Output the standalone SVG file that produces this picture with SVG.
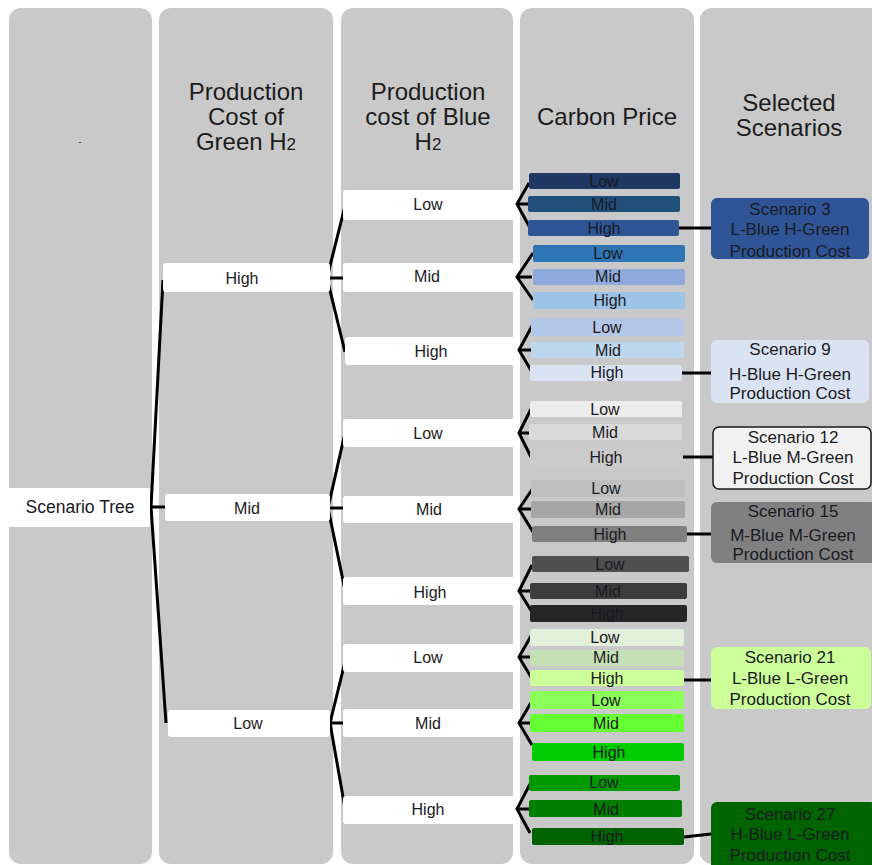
<svg xmlns="http://www.w3.org/2000/svg" width="872" height="865" viewBox="0 0 872 865">
<style>
.col{fill:#c9c9c9}
.hdr{font-family:"Liberation Sans",Arial,sans-serif;font-size:24px;fill:#1c1c1c;text-anchor:middle}
.wb{fill:#ffffff}
.t{font-family:"Liberation Sans",Arial,sans-serif;font-size:16px;fill:#1a1a22;text-anchor:middle}
.sc{font-family:"Liberation Sans",Arial,sans-serif;font-size:17px;fill:#1a1a22;text-anchor:middle}
.conn{stroke:#000;stroke-width:3;fill:none}
</style>
<rect width="872" height="865" fill="#ffffff"/>
<g id="columns">
<rect class="col" x="9" y="8" width="143" height="856" rx="12"/>
<rect class="col" x="159" y="8" width="174" height="856" rx="12"/>
<rect class="col" x="341" y="8" width="172" height="856" rx="12"/>
<rect class="col" x="520" y="8" width="174" height="856" rx="12"/>
<rect class="col" x="700" y="8" width="185" height="856" rx="12"/>
</g>
<g id="headers">
<text class="hdr" x="80" y="145" style="font-size:9px">-</text>
<text class="hdr" x="246" y="100">Production</text>
<text class="hdr" x="246" y="125">Cost of</text>
<text class="hdr" x="246" y="150">Green H<tspan font-size="17">2</tspan></text>
<text class="hdr" x="428" y="100">Production</text>
<text class="hdr" x="428" y="125">cost of Blue</text>
<text class="hdr" x="428" y="150">H<tspan font-size="17">2</tspan></text>
<text class="hdr" x="607" y="125">Carbon Price</text>
<text class="hdr" x="789" y="111">Selected</text>
<text class="hdr" x="789" y="136">Scenarios</text>
</g>
<g id="connectors">
<polyline class="conn" points="163,280 151,507 166,723"/>
<line class="conn" x1="151" y1="507" x2="165" y2="507"/>
<polyline class="conn" points="345,206 327,278 345,352"/>
<line class="conn" x1="327" y1="278" x2="343" y2="278"/>
<polyline class="conn" points="345,433 328,508 345,590"/>
<line class="conn" x1="328" y1="508" x2="343" y2="508"/>
<polyline class="conn" points="345,662 330,723 345,808"/>
<line class="conn" x1="330" y1="723" x2="343" y2="723"/>
<polyline class="conn" points="529,183 517,204 529,226"/>
<line class="conn" x1="517" y1="204" x2="528" y2="204"/>
<polyline class="conn" points="533,253 517,277 533,300"/>
<line class="conn" x1="517" y1="277" x2="532" y2="277"/>
<polyline class="conn" points="532,326 519,350 532,372"/>
<line class="conn" x1="519" y1="350" x2="531" y2="350"/>
<polyline class="conn" points="531,409 519,433 531,457"/>
<line class="conn" x1="519" y1="433" x2="530" y2="433"/>
<polyline class="conn" points="533,488 519,509 533,532"/>
<line class="conn" x1="519" y1="509" x2="532" y2="509"/>
<polyline class="conn" points="532,565 519,591 532,612"/>
<line class="conn" x1="519" y1="591" x2="531" y2="591"/>
<polyline class="conn" points="531,636 519,657 531,677"/>
<line class="conn" x1="519" y1="657" x2="530" y2="657"/>
<polyline class="conn" points="532,701 519,723 532,745"/>
<line class="conn" x1="519" y1="723" x2="531" y2="723"/>
<polyline class="conn" points="530,784 517,809 530,833"/>
<line class="conn" x1="517" y1="809" x2="529" y2="809"/>
<line class="conn" x1="679" y1="228" x2="711" y2="228"/>
<line class="conn" x1="682" y1="373" x2="711" y2="373"/>
<line class="conn" x1="683" y1="457" x2="713" y2="457"/>
<line class="conn" x1="687" y1="534" x2="711" y2="534"/>
<line class="conn" x1="684" y1="680" x2="711" y2="680"/>
<line class="conn" x1="684" y1="837" x2="711" y2="834"/>
</g>
<g id="root">
<rect class="wb" x="9" y="488" width="141" height="39"/>
<text class="t" x="80" y="513" style="font-size:17.5px">Scenario Tree</text>
</g>
<g id="green-high"><rect class="wb" x="163" y="263" width="167" height="29" rx="3"/><text class="t" x="242" y="284">High</text></g>
<g id="green-mid"><rect class="wb" x="165" y="494" width="165" height="27" rx="3"/><text class="t" x="247" y="514">Mid</text></g>
<g id="green-low"><rect class="wb" x="168" y="710" width="162" height="27" rx="3"/><text class="t" x="248" y="729">Low</text></g>
<g id="gh-blue-low"><rect class="wb" x="343" y="190" width="172" height="30" rx="3"/><text class="t" x="428" y="210">Low</text></g>
<g id="gh-blue-mid"><rect class="wb" x="343" y="263" width="172" height="29" rx="3"/><text class="t" x="427" y="282">Mid</text></g>
<g id="gh-blue-high"><rect class="wb" x="345" y="337" width="170" height="28" rx="3"/><text class="t" x="431" y="357">High</text></g>
<g id="gm-blue-low"><rect class="wb" x="343" y="419" width="172" height="28" rx="3"/><text class="t" x="428" y="439">Low</text></g>
<g id="gm-blue-mid"><rect class="wb" x="343" y="496" width="172" height="27" rx="3"/><text class="t" x="429" y="515">Mid</text></g>
<g id="gm-blue-high"><rect class="wb" x="343" y="577" width="172" height="28" rx="3"/><text class="t" x="430" y="598">High</text></g>
<g id="gl-blue-low"><rect class="wb" x="343" y="644" width="172" height="28" rx="3"/><text class="t" x="428" y="663">Low</text></g>
<g id="gl-blue-mid"><rect class="wb" x="343" y="709" width="172" height="28" rx="3"/><text class="t" x="428" y="729">Mid</text></g>
<g id="gl-blue-high"><rect class="wb" x="343" y="796" width="172" height="28" rx="3"/><text class="t" x="428" y="815">High</text></g>
<g id="carbon-1">
<rect x="529" y="173" width="151" height="16" rx="2" fill="#1f3864"/><text class="t" x="604" y="187">Low</text>
<rect x="528" y="196" width="152" height="16" rx="2" fill="#1f4e79"/><text class="t" x="604" y="210">Mid</text>
<rect x="528" y="220" width="151" height="16" rx="2" fill="#2f5597"/><text class="t" x="604" y="234">High</text>
</g>
<g id="carbon-2">
<rect x="533" y="245" width="152" height="17" rx="2" fill="#2e75b6"/><text class="t" x="608" y="259">Low</text>
<rect x="533" y="269" width="152" height="16" rx="2" fill="#8faadc"/><text class="t" x="608" y="282">Mid</text>
<rect x="533" y="292" width="152" height="17" rx="2" fill="#9dc3e6"/><text class="t" x="610" y="306">High</text>
</g>
<g id="carbon-3">
<rect x="531" y="318" width="153" height="18" rx="2" fill="#b4c7e7"/><text class="t" x="607" y="333">Low</text>
<rect x="531" y="342" width="153" height="16" rx="2" fill="#bdd7ee"/><text class="t" x="608" y="356">Mid</text>
<rect x="530" y="365" width="152" height="16" rx="2" fill="#dae3f3"/><text class="t" x="607" y="378">High</text>
</g>
<g id="carbon-4">
<rect x="530" y="401" width="152" height="16" rx="2" fill="#ededed"/><text class="t" x="605" y="415">Low</text>
<rect x="529" y="424" width="153" height="16" rx="2" fill="#d9d9d9"/><text class="t" x="605" y="438">Mid</text>
<rect x="530" y="447" width="152" height="19" rx="2" fill="#cbcbcb"/><text class="t" x="606" y="463">High</text>
</g>
<g id="carbon-5">
<rect x="531" y="480" width="154" height="17" rx="2" fill="#bfbfbf"/><text class="t" x="606" y="494">Low</text>
<rect x="531" y="501" width="154" height="17" rx="2" fill="#a6a6a6"/><text class="t" x="608" y="515">Mid</text>
<rect x="532" y="526" width="155" height="16" rx="2" fill="#808080"/><text class="t" x="610" y="540">High</text>
</g>
<g id="carbon-6">
<rect x="532" y="556" width="157" height="16" rx="2" fill="#4f4f4f"/><text class="t" x="610" y="570">Low</text>
<rect x="530" y="583" width="157" height="16" rx="2" fill="#3d3d3d"/><text class="t" x="608" y="597">Mid</text>
<rect x="530" y="605" width="157" height="17" rx="2" fill="#262626"/><text class="t" x="607" y="619">High</text>
</g>
<g id="carbon-7">
<rect x="530" y="629" width="154" height="17" rx="2" fill="#e2efda"/><text class="t" x="605" y="643">Low</text>
<rect x="530" y="650" width="154" height="16" rx="2" fill="#c5e0b4"/><text class="t" x="606" y="663">Mid</text>
<rect x="530" y="670" width="154" height="16" rx="2" fill="#ccff99"/><text class="t" x="607" y="684">High</text>
</g>
<g id="carbon-8">
<rect x="530" y="691" width="154" height="18" rx="2" fill="#8cff5a"/><text class="t" x="606" y="706">Low</text>
<rect x="530" y="714" width="154" height="18" rx="2" fill="#66ff33"/><text class="t" x="606" y="729">Mid</text>
<rect x="532" y="743" width="152" height="18" rx="2" fill="#00cc00"/><text class="t" x="609" y="758">High</text>
</g>
<g id="carbon-9">
<rect x="529" y="775" width="151" height="16" rx="2" fill="#009900"/><text class="t" x="604" y="788">Low</text>
<rect x="529" y="800" width="153" height="17" rx="2" fill="#007f00"/><text class="t" x="606" y="815">Mid</text>
<rect x="532" y="828" width="152" height="17" rx="2" fill="#006400"/><text class="t" x="607" y="842">High</text>
</g>
<g id="scenario-3">
<rect x="711" y="198" width="158" height="61" rx="6" fill="#2f5597"/>
<text class="sc" x="790" y="215">Scenario 3</text>
<text class="sc" x="790" y="235">L-Blue H-Green</text>
<text class="sc" x="790" y="257">Production Cost</text>
</g>
<g id="scenario-9">
<rect x="711" y="340" width="158" height="63" rx="6" fill="#dae3f3"/>
<text class="sc" x="790" y="355">Scenario 9</text>
<text class="sc" x="790" y="380">H-Blue H-Green</text>
<text class="sc" x="790" y="399">Production Cost</text>
</g>
<g id="scenario-12">
<rect x="713" y="427" width="158" height="62" rx="6" fill="#f2f2f2" stroke="#1a1a1a" stroke-width="1.5"/>
<text class="sc" x="793" y="443">Scenario 12</text>
<text class="sc" x="793" y="463">L-Blue M-Green</text>
<text class="sc" x="793" y="484">Production Cost</text>
</g>
<g id="scenario-15">
<rect x="711" y="502" width="165" height="61" rx="6" fill="#808080"/>
<text class="sc" x="793" y="517">Scenario 15</text>
<text class="sc" x="793" y="541">M-Blue M-Green</text>
<text class="sc" x="793" y="560">Production Cost</text>
</g>
<g id="scenario-21">
<rect x="711" y="647" width="160" height="62" rx="6" fill="#ccff99"/>
<text class="sc" x="790" y="663">Scenario 21</text>
<text class="sc" x="790" y="684">L-Blue L-Green</text>
<text class="sc" x="790" y="705">Production Cost</text>
</g>
<g id="scenario-27">
<rect x="711" y="802" width="165" height="75" rx="6" fill="#006400"/>
<text class="sc" x="790" y="820">Scenario 27</text>
<text class="sc" x="790" y="840">H-Blue  L-Green</text>
<text class="sc" x="790" y="861">Production Cost</text>
</g>
</svg>
